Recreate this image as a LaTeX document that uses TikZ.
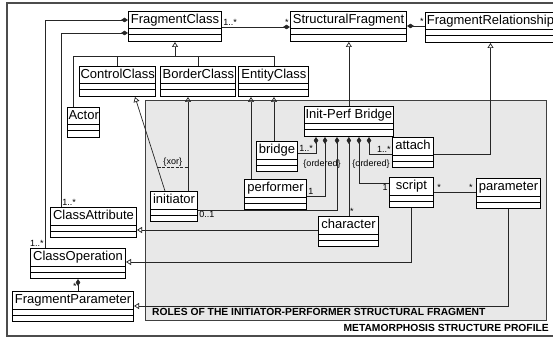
\documentclass[tikz,border=0pt]{standalone}
\usepackage{fontspec}
\setmainfont{Liberation Sans}
\usetikzlibrary{shapes,arrows.meta,positioning}

\begin{document}
\begin{tikzpicture}[x=1pt, y=-1pt, line join=miter]
    % Define styles
    \tikzstyle{cls} = [rectangle, draw=black, line width=1pt, fill=white, anchor=north west, inner xsep=1pt, inner ysep=0pt, minimum height=30pt, text height=12pt, text depth=18pt, font=\fontsize{13}{14}\selectfont,
        path picture={\draw[line width=1pt] ([yshift=-17.5pt]path picture bounding box.north west) -- ([yshift=-17.5pt]path picture bounding box.north east)
                                            ([yshift=-23.5pt]path picture bounding box.north west) -- ([yshift=-23.5pt]path picture bounding box.north east);}]
    \tikzstyle{link} = [draw=black!85, line width=0.7pt]
    \tikzstyle{gen} = [link, -{Triangle[open, width=6pt, length=5pt]}]
    \tikzstyle{comp} = [link, {Diamond[width=4.5pt, length=7pt]}-]
    \tikzstyle{lbl} = [font=\fontsize{9}{10}\selectfont, inner sep=1pt]
    \tikzstyle{title} = [font=\fontsize{10.3}{11}\selectfont\bfseries, inner sep=0pt]

    \useasboundingbox (0,0) rectangle (553,339);
    \clip (0,0) rectangle (553,339);
    \fill[white] (0,0) rectangle (553,339);

    % Profile frame and fragment package
    \draw[black!70, line width=1.5pt] (7,3) rectangle (565,336);
    \draw[fill=black!9, draw=black!75, line width=0.8pt] (145,100) rectangle (546,320);

    % Profile classes
    \node[cls, minimum width=93pt] (fragclass) at (128,11) {FragmentClass};
    \node[cls, minimum width=116pt] (structfrag) at (290,11) {StructuralFragment};
    \node[cls, minimum width=130pt] (fragrel) at (425,12) {FragmentRelationship};
    \node[cls, minimum width=75pt] (ctrl) at (79,66) {ControlClass};
    \node[cls, minimum width=75pt, right=4pt of ctrl] (border) {BorderClass};
    \node[cls, minimum width=70pt, right=2pt of border] (entity) {EntityClass};
    \node[cls, minimum width=31pt] (actor) at (67,107) {Actor};
    \node[cls, minimum width=86pt] (classattr) at (50,207) {ClassAttribute};
    \node[cls, minimum width=95pt] (classop) at (30,248) {ClassOperation};
    \node[cls, minimum width=121pt] (fragparam) at (12,291) {FragmentParameter};

    % Roles inside the fragment
    \node[cls, minimum width=87pt] (ipbridge) at (304,106) {Init-Perf Bridge};
    \node[cls, minimum width=41pt] (bridge) at (256,141) {bridge};
    \node[cls, minimum width=62pt] (performer) at (244,179) {performer};
    \node[cls, minimum width=47pt] (initiator) at (150,191) {initiator};
    \node[cls, minimum width=41pt] (attach) at (392,137) {attach};
    \node[cls, minimum width=44pt] (script) at (389,177) {script};
    \node[cls, minimum width=60pt] (character) at (318,216) {character};
    \node[cls, minimum width=64pt] (parameter) at (476,178) {parameter};

    % Titles
    \node[title, anchor=west] (fragtitle) at (152,312) {ROLES OF THE INITIATOR-PERFORMER STRUCTURAL FRAGMENT};
    \node[title, anchor=east] (proftitle) at (549,328) {METAMORPHOSIS STRUCTURE PROFILE};

    % Generalisation tree into FragmentClass
    \coordinate (treeL) at (73,56);
    \draw[gen] (fragclass.south |- treeL) -- (fragclass.south);
    \draw[link] (actor.north -| treeL) |- (entity.north |- treeL) -- (entity.north);
    \draw[link] (ctrl.north) -- (ctrl.north |- treeL);
    \draw[link] (border.north) -- (border.north |- treeL);

    % Compositions between profile classes
    \draw[comp] ([yshift=-9pt]fragclass.north west) -| ([xshift=15pt]classop.north west) node[lbl, anchor=south east] {1..*};
    \draw[comp] ([yshift=-22pt]fragclass.north west) -| ([xshift=11pt]classattr.north west) node[lbl, anchor=south west] {1..*};
    \draw[comp] (classop.south) -- (classop.south |- fragparam.north) node[lbl, anchor=south east] {*};
    \draw[comp] ([yshift=-16pt]structfrag.north west) -- node[lbl, at start, anchor=south east] {*} ([yshift=-16pt]structfrag.north west -| fragclass.east) node[lbl, anchor=south west] {1..*};
    \draw[comp] ([yshift=-15pt]structfrag.north east) -- ([yshift=-15pt]structfrag.north east -| fragrel.west) node[lbl, anchor=south east] {*};

    % Fragment specialisations
    \draw[gen] (ipbridge.north) -- (ipbridge.north |- structfrag.south);
    \draw[gen] ([yshift=-17pt]attach.north east) -| (fragrel.south);

    % Roles owned by the bridge
    \draw[comp] ([xshift=12pt]ipbridge.south west) |- ([yshift=-12pt]bridge.north east) node[lbl, anchor=south west] {1..*};
    \draw[comp] ([xshift=21pt]ipbridge.south west) |- node[lbl, pos=0.23, xshift=-3pt] {\{ordered\}} ([yshift=-17pt]performer.north east) node[lbl, anchor=south west] {1};
    \draw[comp] ([xshift=33pt]ipbridge.south west) |- ([yshift=-19pt]initiator.north east) node[lbl, anchor=north west] {0..1};
    \draw[comp] (ipbridge.south) -- (ipbridge.south |- character.north) node[lbl, anchor=south west] {*};
    \draw[comp] ([xshift=55pt]ipbridge.south west) |- node[lbl, pos=0.29, xshift=12pt] {\{ordered\}} ([yshift=-6pt]script.north west) node[lbl, anchor=north east] {1};
    \draw[comp] ([xshift=65pt]ipbridge.south west) |- ([yshift=-17pt]attach.north west) node[lbl, anchor=south east] {1..*};

    % initiator is a ControlClass or a BorderClass
    \coordinate (iniC) at ([xshift=15pt]initiator.north west);
    \coordinate (iniB) at ([xshift=38pt]initiator.north west);
    \draw[gen] (iniC) -- coordinate[pos=0.25] (xorL) ([xshift=56pt]ctrl.south west);
    \draw[gen] (iniB) -- (iniB |- border.south);
    \draw[link, dash pattern=on 3pt off 1.5pt] (xorL) -- node[lbl, above] {\{xor\}} (xorL -| iniB);

    % EntityClass roles
    \draw[gen] ([xshift=7pt]performer.north west) -- ([xshift=7pt]performer.north west |- entity.south);
    \draw[gen] ([xshift=18pt]bridge.north west) -- ([xshift=18pt]bridge.north west |- entity.south);

    % script, parameter and character
    \draw[link] ([yshift=-15pt]script.north east) -- node[lbl, at start, anchor=south west, xshift=2pt] {*} node[lbl, at end, anchor=south east, xshift=-2pt] {*} ([yshift=-15pt]script.north east -| parameter.west);
    \draw[gen] ([yshift=-14pt]character.north west) -- ([yshift=-14pt]character.north west -| classattr.east);
    \draw[gen] (script.south) |- ([yshift=-14pt]classop.north east);
    \draw[gen] (parameter.south) |- ([yshift=-15pt]fragparam.north east);
\end{tikzpicture}
\end{document}
